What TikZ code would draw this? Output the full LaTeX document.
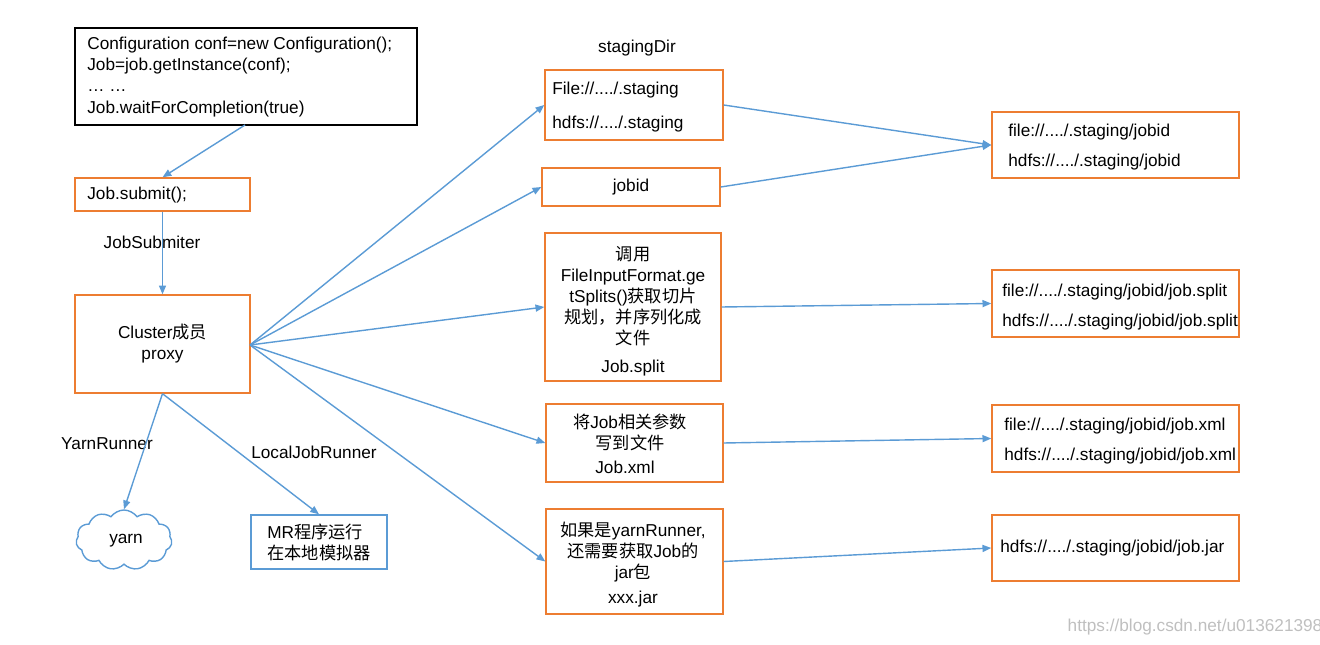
\documentclass[tikz,border=0pt]{standalone}
\usepackage{fontspec}
\setmainfont{Liberation Sans}
\newfontfamily\cjk{Noto Sans CJK SC}
\usetikzlibrary{shapes.symbols,arrows.meta}
\definecolor{ob}{HTML}{ED7D31}
\definecolor{bl}{HTML}{5B9BD5}
\begin{document}
\begin{tikzpicture}[x=0.02cm,y=-0.02cm,font=\fontsize{9.8}{12}\selectfont,
 ob/.style={draw=ob,line width=0.8pt,inner sep=0},
 bb/.style={draw=bl,line width=0.8pt,inner sep=0},
 ar/.style={draw=bl,line width=0.8pt,-{Triangle[length=5pt,width=4pt]}},
 lb/.style={inner sep=0,anchor=west}]
\useasboundingbox (0,0) rectangle (1320,645);
\node[draw=black,line width=0.8pt,inner sep=0,minimum width=342*0.02cm,minimum height=97*0.02cm] (code) at (246,76.5) {};
\node[lb,align=left] at (87,77) {Configuration conf=new Configuration();\\Job=job.getInstance(conf);\\… …\\Job.waitForCompletion(true)};
\node[ob,minimum width=175*0.02cm,minimum height=33*0.02cm] (sub) at (162.5,194.5) {};
\node[lb] at (87,195) {Job.submit();};
\node[ob,minimum width=175*0.02cm,minimum height=98*0.02cm,align=center] (cl) at (162.5,344) {Cluster{\cjk 成员}\\proxy};
\node at (152,242) {JobSubmiter};
\node at (107,444) {YarnRunner};
\node at (314,452) {LocalJobRunner};
\node at (637,48) {stagingDir};
% middle
\node[ob,minimum width=178*0.02cm,minimum height=70*0.02cm] (st) at (634,105) {};
\node[lb,align=left] at (552,107) {File://..../.staging\\[7pt]hdfs://..../.staging};
\node[ob,minimum width=178*0.02cm,minimum height=38*0.02cm] (jid) at (631,187) {jobid};
\node[ob,minimum width=176*0.02cm,minimum height=148*0.02cm] (sp) at (633,307) {};
\node[align=center,inner sep=0] at (633,296) {{\cjk 调用}\\FileInputFormat.ge\\tSplits(){\cjk 获取切片}\\{\cjk 规划，并序列化成}\\{\cjk 文件}};
\node at (633,368) {Job.split};
\node[ob,minimum width=177*0.02cm,minimum height=78*0.02cm] (xm) at (634.5,443) {};
\node[align=center,inner sep=0] at (630,432) {{\cjk 将}Job{\cjk 相关参数}\\{\cjk 写到文件}};
\node at (625,467) {Job.xml};
\node[ob,minimum width=177*0.02cm,minimum height=105*0.02cm] (ja) at (634.5,561.5) {};
\node[align=center,inner sep=0] at (633,552) {{\cjk 如果是}yarnRunner,\\{\cjk 还需要获取}Job{\cjk 的}\\jar{\cjk 包}};
\node at (633,599) {xxx.jar};
% right
\node[ob,minimum width=247*0.02cm,minimum height=66*0.02cm] (r1) at (1115.5,145) {};
\node[lb,align=left] at (1008,147) {file://..../.staging/jobid\\[5pt]hdfs://..../.staging/jobid};
\node[ob,minimum width=247*0.02cm,minimum height=67*0.02cm] (r2) at (1115.5,303.5) {};
\node[lb,align=left] at (1002,307) {file://..../.staging/jobid/job.split\\[5pt]hdfs://..../.staging/jobid/job.split};
\node[ob,minimum width=247*0.02cm,minimum height=67*0.02cm] (r3) at (1115.5,438.5) {};
\node[lb,align=left] at (1004,441) {file://..../.staging/jobid/job.xml\\[5pt]hdfs://..../.staging/jobid/job.xml};
\node[ob,minimum width=247*0.02cm,minimum height=66*0.02cm] (r4) at (1115.5,548) {};
\node[lb] at (1000,548) {hdfs://..../.staging/jobid/job.jar};
% bottom
\node[cloud,draw=bl,line width=0.8pt,cloud puffs=11,cloud puff arc=110,aspect=1.8,minimum width=96*0.02cm,minimum height=60*0.02cm,inner sep=0] (yarn) at (124,540) {};
\node at (126,541) {yarn};
\node[bb,minimum width=136*0.02cm,minimum height=54*0.02cm,align=left] (mr) at (319,542) {MR{\cjk 程序运行}\\{\cjk 在本地模拟器}};
\node[text=gray!50] at (1195,627) {https://blog.csdn.net/u013621398};
% arrows
\coordinate (c0) at (245,125);
\draw[ar] (c0) -- (sub.north);
\draw[ar] (sub.south) -- (cl.north);
\coordinate (cr) at (250,345);
\draw[ar] (cr) -- (st.west);
\draw[ar] (cr) -- (jid.west);
\draw[ar] (cr) -- (sp.west);
\draw[ar] (cr) -- (xm.west);
\draw[ar] (cr) -- (ja.west);
\draw[ar] (cl.south) -- (yarn.north);
\draw[ar] (cl.south) -- (mr.north);
\draw[ar] (st.east) -- (r1.west);
\draw[ar] (jid.east) -- (r1.west);
\draw[ar] (sp.east) -- (r2.west);
\draw[ar] (xm.east) -- (r3.west);
\draw[ar] (ja.east) -- (r4.west);
\end{tikzpicture}
\end{document}
